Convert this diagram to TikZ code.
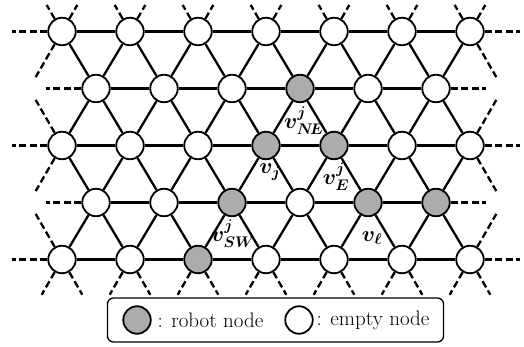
\RequirePackage{fix-cm}
\documentclass[tikz,border=0pt]{standalone}
\usepackage{amsmath,bm}
\begin{document}
\begin{tikzpicture}[x=1pt,y=1pt,
  vtx/.style={circle,draw,line width=1.8pt,minimum size=27.5pt,inner sep=0pt,fill=white},
  rob/.style={fill=gray!65},
  edge/.style={line width=2.3pt},
  stub/.style={line width=2.3pt,dash pattern=on 7pt off 3.5pt},
  lab/.style={font=\fontsize{22}{24}\selectfont,inner sep=0pt},
  legtext/.style={font=\fontsize{21}{24}\selectfont,anchor=west,inner sep=0pt},
  c2-3/.style={rob}, c3-3/.style={rob}, c3-4/.style={rob},
  c4-2/.style={rob}, c4-4/.style={rob}, c4-5/.style={rob}, c5-2/.style={rob}]
\useasboundingbox (0,0) rectangle (524,347);
% nodes
\foreach \r/\y in {1/315.5,3/201.5,5/87.5}
  \foreach \k in {0,...,6}
    \node[vtx,c\r-\k/.try] (n\r-\k) at ({62+68*\k},\y) {};
\foreach \r/\y in {2/258.5,4/144.5}
  \foreach \k in {0,...,5}
    \node[vtx,c\r-\k/.try] (n\r-\k) at ({96+68*\k},\y) {};
% horizontal edges
\foreach \r in {1,3,5}
  \foreach \k [count=\kk] in {0,...,5}
    \draw[edge] (n\r-\k) -- (n\r-\kk);
\foreach \r in {2,4}
  \foreach \k [count=\kk] in {0,...,4}
    \draw[edge] (n\r-\k) -- (n\r-\kk);
% diagonal edges
\foreach \e/\o in {2/1,2/3,4/3,4/5}
  \foreach \j [count=\jj] in {0,...,5}
    {\draw[edge] (n\e-\j) -- (n\o-\j);
     \draw[edge] (n\e-\j) -- (n\o-\jj);}
% stubs top and bottom
\foreach \k in {0,...,6}
  {\draw[stub] (n1-\k.60) -- ++(60:16);
   \draw[stub] (n1-\k.120) -- ++(120:16);
   \draw[stub] (n5-\k.240) -- ++(240:26);
   \draw[stub] (n5-\k.300) -- ++(300:26);}
% horizontal stubs
\foreach \r in {1,3,5}
  {\draw[stub] (n\r-0.180) -- ++(180:35);
   \draw[stub] (n\r-6.0) -- ++(0:35);}
\foreach \r in {2,4}
  {\draw[stub] (n\r-0.180) -- ++(180:35);
   \draw[stub] (n\r-5.0) -- ++(0:35);}
% side diagonal stubs
\foreach \n/\a in {n1-0/240,n3-0/120,n3-0/240,n5-0/120,n1-6/300,n3-6/60,n3-6/300,n5-6/60}
  \draw[stub] (\n.\a) -- ++(\a:38);
% labels
\node[lab] (lNE) at (304,226) {$\bm{v^{j}_{N\!E}}$};
\node[lab] (lj) at (270,175) {$\bm{v_{j}}$};
\node[lab] (lE) at (336,170) {$\bm{v^{j}_{E}}$};
\node[lab] (lSW) at (233,113) {$\bm{v^{j}_{SW}}$};
\node[lab] (ll) at (372,109) {$\bm{v_{\ell}}$};
% legend
\node[draw,rounded corners=6pt,line width=1.3pt,minimum width=336pt,minimum height=44pt,inner sep=0pt] (leg) at (275.5,27) {};
\node[vtx,rob] (lr) at (137,27) {};
\node[legtext] (lrt) at (157.5,27) {: robot node};
\node[vtx] (le) at (299,27) {};
\node[legtext] (let) at (316.5,27) {: empty node};
\end{tikzpicture}
\end{document}
